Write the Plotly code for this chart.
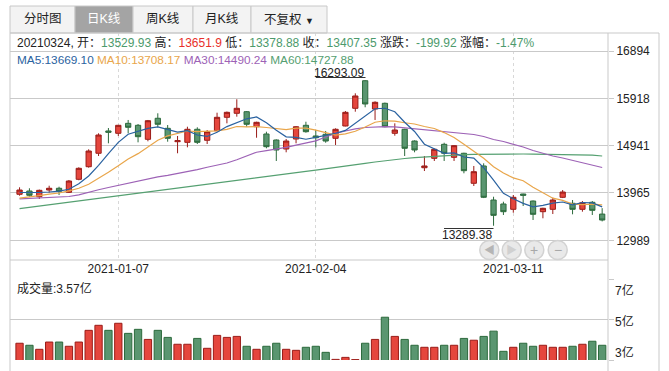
import plotly.graph_objects as go
import pandas as pd

# ---------------- data ----------------
dates = ["2020-12-23","2020-12-24","2020-12-25","2020-12-28","2020-12-29","2020-12-30","2020-12-31",
         "2021-01-04","2021-01-05","2021-01-06","2021-01-07","2021-01-08","2021-01-11","2021-01-12",
         "2021-01-13","2021-01-14","2021-01-15","2021-01-18","2021-01-19","2021-01-20","2021-01-21",
         "2021-01-22","2021-01-25","2021-01-26","2021-01-27","2021-01-28","2021-01-29","2021-02-01",
         "2021-02-02","2021-02-03","2021-02-04","2021-02-05","2021-02-08","2021-02-09","2021-02-10",
         "2021-02-18","2021-02-19","2021-02-22","2021-02-23","2021-02-24","2021-02-25","2021-02-26",
         "2021-03-01","2021-03-02","2021-03-03","2021-03-04","2021-03-05","2021-03-08","2021-03-09",
         "2021-03-10","2021-03-11","2021-03-12","2021-03-15","2021-03-16","2021-03-17","2021-03-18",
         "2021-03-19","2021-03-22","2021-03-23","2021-03-24"]

opens = [13938,14006,13888,14026,14062,13979,14247,14507,14784,15244,
         15196,15402,15361,15072,15506,15299,15023,15010,15279,15052,
         15250,15526,15609,15642,15332,15182,15058,14872,15078,15361,
         15141,15176,15093,15347,15712,16281,15697,15815,15196,15279,
         15037,14486,14680,14969,14701,14784,14165,14522,13820,13738,
         13628,13944,13799,13579,13628,13876,13752,13628,13773,13529.93]
highs = [14082,14062,14035,14115,14094,14233,14495,14866,15196,15305,
         15370,15471,15388,15471,15609,15367,15141,15332,15320,15264,
         15621,15645,15898,15655,15435,15229,15070,15078,15345,15435,
         15264,15244,15299,15656,16021,16293.09,15856,15830,15402,15290,
         15050,14728,14880,15002,14950,14795,14522,14577,13888,13785,
         13923,13950,13810,13660,13868,14026,13820,13799,13799,13651.9]
lows = [13909,13888,13841,13971,13923,13965,14227,14487,14728,14990,
        15141,15196,15010,15031,15320,15023,14784,14907,14975,14975,
        15240,15402,15539,15332,15105,14887,14625,14804,14990,15209,
        14907,15002,14955,15340,15642,15733,15471,15320,15147,14728,
        14804,14418,14625,14625,14625,14371,14109,13860,13289.38,13511,
        13558,13696,13408,13443,13531,13860,13525,13579,13511,13378.88]
closes = [14026,13917,14020,14062,14000,14212,14474,14831,15161,15217,
          15361,15320,15126,15456,15382,15093,15044,15279,15010,15229,
          15526,15629,15712,15382,15423,14920,14852,15037,15332,15229,
          15105,15037,15279,15629,15966,15801,15836,15332,15264,14887,
          14852,14522,14866,14784,14941,14425,14404,13876,13504,13579,
          13876,13917,13525,13649,13820,13985,13628,13764,13607.27,13407.35]
# closes of the 9 sessions before the first visible one (estimated from MA lines)
pre_closes = [13700,13720,13740,13760,13775,13942,13995,14012,13900]

ma30 = [13843,13851,13863,13872,13880,13892,13927,13971,14031,14078,
        14123,14175,14220,14264,14299,14330,14365,14404,14447,14495,
        14536,14583,14651,14734,14806,14839,14866,14907,14951,14990,
        15041,15120,15192,15244,15289,15316,15332,15334,15330,15312,
        15289,15272,15256,15237,15219,15202,15171,15130,15068,15027,
        14975,14914,14841,14779,14728,14687,14639,14594,14546,14490.24]
ma60 = [13641,13667,13694,13721,13748,13773,13799,13826,13851,13878,
        13905,13932,13958,13985,14012,14039,14066,14092,14119,14144,
        14171,14198,14224,14251,14278,14305,14330,14357,14383,14410,
        14437,14462,14489,14515,14546,14575,14604,14631,14656,14676,
        14693,14707,14722,14734,14744,14755,14761,14765,14767,14769,
        14769,14769,14767,14765,14763,14761,14757,14753,14744,14727.88]

volumes = [3.83,3.73,3.53,3.89,3.89,3.68,3.89,4.47,4.72,4.47,
           4.82,4.32,4.52,4.02,4.47,4.12,3.78,3.78,4.07,3.58,
           4.22,4.12,4.17,3.68,3.53,3.68,3.83,3.53,3.48,3.63,
           3.68,3.38,3.03,3.13,3.02,3.83,4.02,5.12,4.17,4.02,
           3.73,3.63,3.63,3.73,3.73,4.07,3.98,4.17,4.43,3.43,
           3.63,3.83,3.68,3.73,3.63,3.63,3.68,3.78,3.93,3.73]

price_ticks = [16894, 15917.75, 14941.5, 13965.25, 12989]
price_tick_text = ["16894", "15918", "14941", "13965", "12989"]
date_ticks = ["2021-01-07", "2021-02-04", "2021-03-11"]
vol_ticks = [7, 5, 3]
vol_tick_text = ["7亿", "5亿", "3亿"]
tabs = ["分时图", "日K线", "周K线", "月K线", "不复权"]

# moving averages
all_close = pd.Series(pre_closes + closes)
ma5 = all_close.rolling(5).mean().iloc[len(pre_closes):].tolist()
ma10 = all_close.rolling(10).mean().iloc[len(pre_closes):].tolist()

# ---------------- styling ----------------
W, H = 669, 371
FONT = "Liberation Sans, Arial, Noto Sans CJK SC, sans-serif"
RED_F, RED_L = "#e5463d", "#9a1c18"
GRN_F, GRN_L = "#5a9670", "#2c6a3c"
C_MA5, C_MA10, C_MA30, C_MA60 = "#2a62a0", "#e9a64b", "#9d62b6", "#55a071"
TXT_G, TXT_R = "#4c9a6c", "#e8302a"
GRID = "#c9c9c9"

def fx(px):
    return px / W

def fy(py):
    return 1 - py / H

def p_at(py):
    return 16894 - (py - 51) * 20.629

fig = go.Figure()

fig.add_trace(go.Candlestick(
    x=dates, open=opens, high=highs, low=lows, close=closes,
    increasing=dict(line=dict(color=RED_L, width=1), fillcolor=RED_F),
    decreasing=dict(line=dict(color=GRN_L, width=1), fillcolor=GRN_F),
    whiskerwidth=0, hoverinfo="skip", showlegend=False, xaxis="x", yaxis="y"))

for vals, col in [(ma60, C_MA60), (ma30, C_MA30), (ma10, C_MA10), (ma5, C_MA5)]:
    fig.add_trace(go.Scatter(x=dates, y=vals, mode="lines",
                             line=dict(color=col, width=1.2),
                             hoverinfo="skip", showlegend=False, xaxis="x", yaxis="y"))

up = [c >= o for o, c in zip(opens, closes)]
fig.add_trace(go.Bar(
    x=dates, y=volumes,
    marker=dict(color=[RED_F if u else GRN_F for u in up],
                line=dict(color=[RED_L if u else GRN_L for u in up], width=1)),
    hoverinfo="skip", showlegend=False, xaxis="x2", yaxis="y2"))

x_rng = [-0.967, 59.59]
fig.update_layout(
    width=W, height=H, margin=dict(l=0, r=0, t=0, b=0),
    paper_bgcolor="white", plot_bgcolor="white",
    font=dict(family=FONT, size=12, color="#222"),
    bargap=0.26, boxgap=0.24,
    xaxis=dict(domain=[fx(10), fx(608)], anchor="y", type="category",
               categoryorder="array", categoryarray=dates, range=x_rng,
               tickmode="array", tickvals=date_ticks, ticktext=date_ticks,
               showgrid=True, gridcolor="#d8d8d8", griddash="3px,3px", gridwidth=1,
               ticks="", showline=False, zeroline=False,
               rangeslider=dict(visible=False), fixedrange=True,
               tickfont=dict(size=12, color="#222")),
    yaxis=dict(domain=[fy(260), fy(33)], anchor="x", side="right",
               range=[p_at(260), p_at(33)], tickmode="array",
               tickvals=price_ticks, ticktext=price_tick_text,
               showgrid=True, gridcolor=GRID, gridwidth=1, zeroline=False,
               ticks="outside", ticklen=5, tickcolor=GRID, showline=False,
               fixedrange=True, tickfont=dict(size=12, color="#222")),
    xaxis2=dict(domain=[fx(10), fx(608)], anchor="y2", type="category",
                categoryorder="array", categoryarray=dates, range=x_rng,
                showticklabels=False, showgrid=False, ticks="", zeroline=False,
                fixedrange=True),
    yaxis2=dict(domain=[fy(360), fy(279.3)], anchor="x2", side="right",
                range=[3, 7], tickmode="array", tickvals=vol_ticks,
                showticklabels=False, showgrid=True, gridcolor=GRID,
                zeroline=False, ticks="outside", ticklen=5, tickcolor=GRID,
                fixedrange=True),
)

shapes = []
def line(x0, y0, x1, y1, color=GRID, width=1):
    shapes.append(dict(type="line", xref="paper", yref="paper",
                       x0=fx(x0), y0=fy(y0), x1=fx(x1), y1=fy(y1),
                       line=dict(color=color, width=width), layer="above"))

# frame
line(10, 33, 659, 33)
line(10, 33, 10, 371)
line(608, 33, 608, 371)
line(659, 33, 659, 371)
line(10, 260, 608, 260)

annotations = []
def text(x, y, s, xanchor="left", size=12, color="#222"):
    annotations.append(dict(xref="paper", yref="paper", x=fx(x), y=fy(y), text=s,
                            showarrow=False, xanchor=xanchor, yanchor="middle",
                            font=dict(size=size, color=color, family=FONT)))

# tabs
tab_edges = [10, 75, 133, 193, 251, 327]
for i, name in enumerate(tabs):
    active = (i == 1)
    shapes.append(dict(type="rect", xref="paper", yref="paper",
                       x0=fx(tab_edges[i]), x1=fx(tab_edges[i + 1]), y0=fy(33), y1=fy(6),
                       fillcolor="#a4a4a4" if active else "#f3f3f3",
                       line=dict(color="#c8c8c8", width=1), layer="below"))
    label = name if i < 4 else name + " <span style='font-size:9px'>▼</span>"
    text((tab_edges[i] + tab_edges[i + 1]) / 2, 19.5, label, xanchor="center",
         size=12.5, color="white" if active else "#222")

# info rows
g = lambda v: f"<span style='color:{TXT_G}'>{v}</span>"
r = lambda v: f"<span style='color:{TXT_R}'>{v}</span>"
chg = closes[-1] - closes[-2]
pct = chg / closes[-2] * 100
info = ("20210324, 开：" + g(f"{opens[-1]:.2f}") + " 高：" + r(f"{highs[-1]:.1f}") +
        " 低：" + g(f"{lows[-1]:.2f}") + " 收：" + g(f"{closes[-1]:.2f}") +
        " 涨跌：" + g(f"{chg:.2f}") + " 涨幅：" + g(f"{pct:.2f}%"))
text(15, 42.5, info)
ma_info = (f"<span style='color:{C_MA5}'>MA5:13669.10</span> "
           f"<span style='color:{C_MA10}'>MA10:13708.17</span> "
           f"<span style='color:{C_MA30}'>MA30:14490.24</span> "
           f"<span style='color:{C_MA60}'>MA60:14727.88</span>")
text(15, 60, ma_info, size=11.8)

# high / low markers
text(365.5, 72.5, f"{max(highs):.2f}", xanchor="right")
line(316, 77.5, 365.5, 77.5, color="#333")
text(493.5, 235, f"{min(lows):.2f}", xanchor="right")
line(444, 228.5, 493.5, 228.5, color="#333")

# nav buttons
for cx, glyph, gc in [(489.3, "◀", "#b5b5b5"), (511.7, "▶", "#d0d0d0"),
                      (534.3, "+", "#a8a8a8"), (557.7, "−", "#a8a8a8")]:
    shapes.append(dict(type="circle", xref="paper", yref="paper",
                       x0=fx(cx - 9.5), x1=fx(cx + 9.5), y0=fy(250 + 9.5), y1=fy(250 - 9.5),
                       fillcolor="#e9e9e9", line=dict(color="#d2d2d2", width=1.5), layer="above"))
    text(cx, 250, glyph, xanchor="center", size=11 if glyph in "◀▶" else 14, color=gc)

# volume panel labels
text(15, 288.5, f"成交量:3.57亿")
for lbl, yy in zip(vol_tick_text, [290, 321.7, 352.5]):
    text(613, yy, lbl)

fig.update_layout(shapes=shapes, annotations=annotations)
fig.write_html("out.html", config={"displayModeBar": False, "staticPlot": True},
               post_script="document.body.style.margin='0';document.body.style.padding='0';")
